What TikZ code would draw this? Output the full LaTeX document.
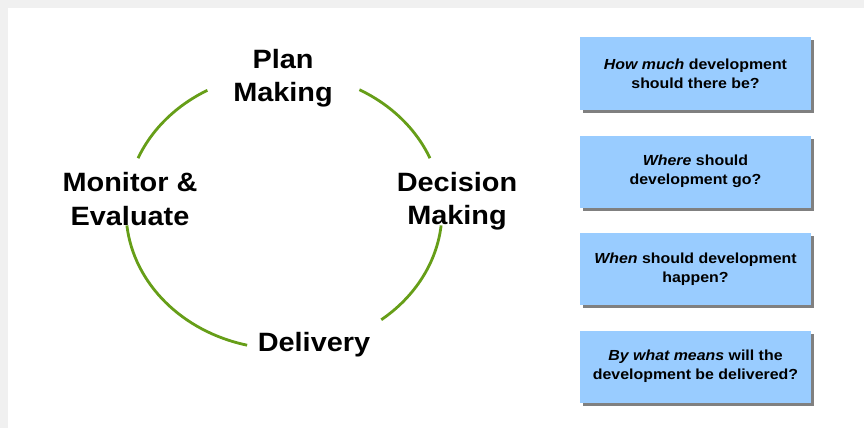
\documentclass[tikz,border=0pt]{standalone}
\usepackage{fontspec}
\setmainfont{Liberation Sans}[FakeStretch=1.09]
\usetikzlibrary{shadows}

\definecolor{cyclegreen}{RGB}{102,158,24}
\definecolor{qblue}{RGB}{153,204,255}
\definecolor{framegray}{RGB}{240,240,240}

\tikzset{
	stage/.style={align=center, inner sep=0pt, font=\fontsize{26.5}{33.5}\selectfont\bfseries},
	question/.style={fill=qblue, minimum width=231pt, minimum height=72pt, align=center,
		inner sep=0pt, font=\fontsize{14.6}{19}\selectfont\bfseries,
		drop shadow={shadow xshift=3pt, shadow yshift=-3pt, fill=black!50, opacity=1}},
	cycleline/.style={draw=cyclegreen, line width=2.8pt}
}

\begin{document}
\begin{tikzpicture}[x=1pt, y=-1pt]

	% ---- frame

	\useasboundingbox (0,0) rectangle (864,428);
	\fill[framegray] (0,0) rectangle (864,428);
	\fill[white] (8,8) rectangle (864,428);

	% ---- parameters

	\def\rx{158}
	\def\ry{138}

	% ---- cycle

	\coordinate (O) at (284,211);

	\foreach \a/\b in {22.5/61.5, 119/157.5, 186/256.5, -52/-6} {
		\draw[cycleline] (O) ++(\a:\rx pt and \ry pt) arc[start angle=\a, end angle=\b, x radius=\rx pt, y radius=\ry pt];
	}

	% ---- stages

	\node[stage] (plan) at (283,78) {Plan\\Making};
	\node[stage] (decision) at (457,201) {Decision\\Making};
	\node[stage] (delivery) at (314,345) {Delivery};
	\node[stage] (monitor) at (130,199) {Monitor \&\\Evaluate};

	% ---- questions

	\node[question] (q1) at (695.5,73.5) {\textit{How much} development\\should there be?};
	\node[question] (q2) at (695.5,171.5) {\textit{Where} should\\development go?};
	\node[question] (q3) at (695.5,269) {\textit{When} should development\\happen?};
	\node[question] (q4) at (695.5,366.5) {\textit{By what means} will the\\development be delivered?};

\end{tikzpicture}
\end{document}
